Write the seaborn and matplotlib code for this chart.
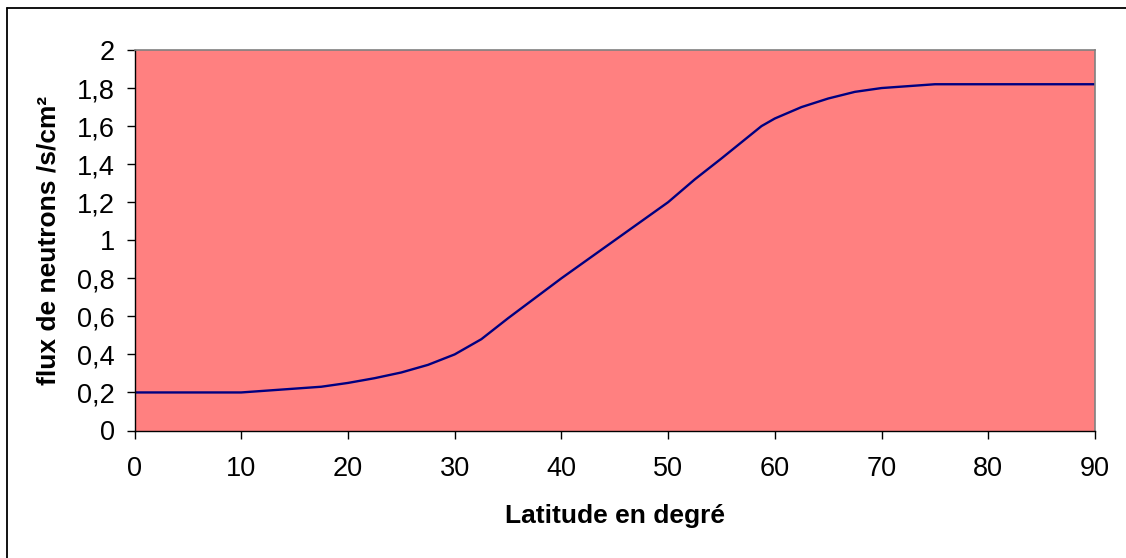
import matplotlib
matplotlib.use("Agg")
import matplotlib.pyplot as plt
from matplotlib.lines import Line2D
from matplotlib.ticker import FuncFormatter, MultipleLocator
import seaborn as sns
import pandas as pd

latitude = [0, 10, 17.5, 20, 22.5, 25, 27.5, 30, 32.5, 35, 37.5, 40, 45, 50,
            52.5, 55, 58.75, 60, 62.5, 65, 67.5, 70, 75, 80, 90]
flux = [0.2, 0.2, 0.23, 0.25, 0.275, 0.305, 0.345, 0.40, 0.48, 0.59, 0.695, 0.80,
        1.0, 1.2, 1.32, 1.43, 1.60, 1.64, 1.70, 1.745, 1.78, 1.80, 1.82, 1.82, 1.82]
x_label = "Latitude en degré"
y_label = "flux de neutrons /s/cm²"

sns.set_style("white")
plt.rcParams['font.family'] = ['Liberation Sans', 'DejaVu Sans']
plt.rcParams['text.color'] = 'black'
plt.rcParams['axes.labelcolor'] = 'black'

W, H = 1126, 558
fig = plt.figure(figsize=(W / 100, H / 100), dpi=100)
fig.patch.set_facecolor("white")
left, right, top, bottom = 134.5, 1095, 50, 430.5
ax = fig.add_axes([left / W, (H - bottom) / H, (right - left) / W, (bottom - top) / H])
ax.set_facecolor("#FF8080")

df = pd.DataFrame({"lat": latitude, "flux": flux})
sns.lineplot(data=df, x="lat", y="flux", ax=ax, color="#000080", linewidth=1.7)

ax.set_xlim(0, 90)
ax.set_ylim(0, 2)
ax.xaxis.set_major_locator(MultipleLocator(10))
ax.yaxis.set_major_locator(MultipleLocator(0.2))
ax.yaxis.set_major_formatter(FuncFormatter(lambda v, p: f"{round(v, 1):g}".replace('.', ',')))

for s in ["top", "right"]:
    ax.spines[s].set_color("#808080")
    ax.spines[s].set_linewidth(1.2)
for s in ["left", "bottom"]:
    ax.spines[s].set_color("black")
    ax.spines[s].set_linewidth(1.0)

ax.tick_params(axis="both", which="major", direction="out", length=6, width=1,
               color="black", labelsize=19.5, labelcolor="black")
ax.tick_params(axis="x", pad=12.5, bottom=True)
ax.tick_params(axis="y", pad=8, left=True)

ax.set_xlabel(x_label, fontsize=19, fontweight="bold", labelpad=16, color="black")
ax.set_ylabel(y_label, fontsize=19, fontweight="bold", labelpad=12, color="black")

# outer chart frame (top and left edges visible)
fig.add_artist(Line2D([7 / W, 1.0], [1 - 8 / H, 1 - 8 / H], transform=fig.transFigure,
                      color="black", linewidth=1.3))
fig.add_artist(Line2D([7 / W, 7 / W], [0.0, 1 - 8 / H], transform=fig.transFigure,
                      color="black", linewidth=1.3))

fig.savefig("out.png", dpi=100)
